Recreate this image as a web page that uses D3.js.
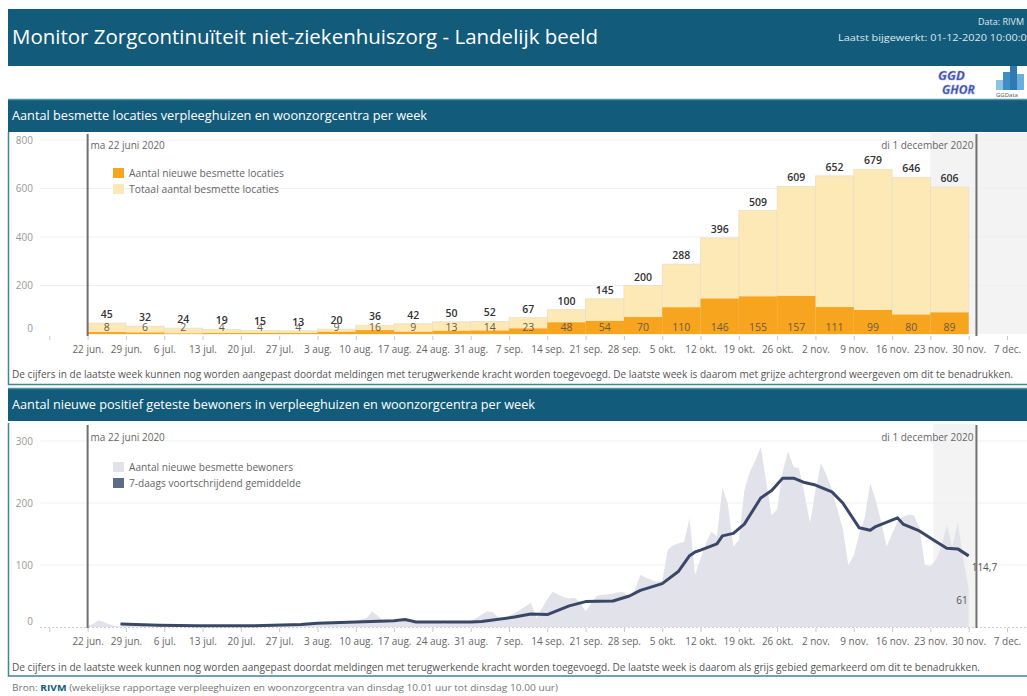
<!DOCTYPE html>
<html>
<head>
<meta charset="utf-8">
<script src="https://cdn.jsdelivr.net/npm/d3@7"></script>
<style>
  body { margin: 0; background: #fff; }
  svg text { font-family: "Open Sans", sans-serif; }
</style>
</head>
<body>
<div id="chart"></div>
<script>
// Weekly ticks (mondays) and their labels
const tickDates = ["2020-06-15","2020-06-22","2020-06-29","2020-07-06","2020-07-13","2020-07-20","2020-07-27",
  "2020-08-03","2020-08-10","2020-08-17","2020-08-24","2020-08-31","2020-09-07","2020-09-14","2020-09-21",
  "2020-09-28","2020-10-05","2020-10-12","2020-10-19","2020-10-26","2020-11-02","2020-11-09","2020-11-16",
  "2020-11-23","2020-11-30","2020-12-07"];
const tickLabels = ["","22 jun.","29 jun.","6 jul.","13 jul.","20 jul.","27 jul.","3 aug.","10 aug.","17 aug.",
  "24 aug.","31 aug.","7 sep.","14 sep.","21 sep.","28 sep.","5 okt.","12 okt.","19 okt.","26 okt.","2 nov.",
  "9 nov.","16 nov.","23 nov.","30 nov.","7 dec."];

// Top chart: infected locations per week
const weekStarts = ["2020-06-22","2020-06-29","2020-07-06","2020-07-13","2020-07-20","2020-07-27","2020-08-03",
  "2020-08-10","2020-08-17","2020-08-24","2020-08-31","2020-09-07","2020-09-14","2020-09-21","2020-09-28",
  "2020-10-05","2020-10-12","2020-10-19","2020-10-26","2020-11-02","2020-11-09","2020-11-16","2020-11-23"];
const totalLocations = [45,32,24,19,15,13,20,36,42,50,52,67,100,145,200,288,396,509,609,652,679,646,606];
const newLocations = [8,6,2,4,4,4,9,16,9,13,14,23,48,54,70,110,146,155,157,111,99,80,89];
const topTicks = [0,200,400,600,800];

// Bottom chart: new positive residents per day, from dailyStart
const dailyStart = "2020-06-22";
const dailyResidents = [
  2,5,11,8,4,2,1, 2,3,1,2,1,1,2, 1,1,0,1,2,1,1, 1,0,1,2,1,1,2, 2,1,1,2,3,2,2,
  3,2,4,6,4,8,5, 5,4,6,7,5,8,10, 9,12,15,25,18,10,12, 9,8,12,7,6,8,7, 6,8,5,7,9,6,8,
  10,14,20,25,24,16,12, 18,22,28,33,39,14,30, 45,57,52,48,46,47,40, 25,38,50,52,53,54,56,
  56,48,60,84,80,76,73, 74,124,132,135,137,176,84, 110,135,154,146,226,197,130,
  140,220,250,268,290,235,180, 190,250,283,258,256,215,168, 220,264,245,222,190,158,100,
  115,150,176,232,205,170,130, 150,170,178,181,180,160,100, 98,108,130,164,130,168,111,61];
const avgDates = ["2020-06-28","2020-07-05","2020-07-12","2020-07-22","2020-07-31","2020-08-03","2020-08-10",
  "2020-08-17","2020-08-19","2020-08-21","2020-08-31","2020-09-02","2020-09-08","2020-09-11","2020-09-14",
  "2020-09-18","2020-09-21","2020-09-26","2020-09-29","2020-10-01","2020-10-05","2020-10-08","2020-10-10",
  "2020-10-11","2020-10-12","2020-10-15","2020-10-16","2020-10-18","2020-10-20","2020-10-23","2020-10-25",
  "2020-10-27","2020-10-29","2020-10-31","2020-11-02","2020-11-05","2020-11-07","2020-11-10","2020-11-12",
  "2020-11-13","2020-11-17","2020-11-18","2020-11-21","2020-11-24","2020-11-26","2020-11-28","2020-11-30"];
const avgValues = [5,3,2,2,4,6,8,10,12,8,8,9,16,21,20,34,41,42,50,59,70,90,115,121,124,134,147,151,166,208,220,
  240,240,233,229,218,200,160,156,162,176,166,155,138,127,126,114.7];
const bottomTicks = [0,100,200,300];

// Marker dates
const markerStart = "2020-06-22";
const markerEnd = "2020-12-01T10:00";
const lastWeek = "2020-11-23";

const parse = d => new Date(d.length > 10 ? d + ":00Z" : d + "T00:00:00Z");
const teal = "#125b7b";

createCharts();

function createCharts() {
  const W = 1027, H = 696;
  const svg = d3.select("#chart")
    .append("svg")
      .attr("width", W)
      .attr("height", H);

  // Header band
  svg.append("rect").attr("x", 8).attr("y", 9).attr("width", W).attr("height", 57).attr("fill", teal);
  svg.append("text").attr("x", 12).attr("y", 44)
    .attr("fill", "#fff").attr("font-size", 20)
    .attr("textLength", 586).attr("lengthAdjust", "spacingAndGlyphs")
    .text("Monitor Zorgcontinuïteit niet-ziekenhuiszorg - Landelijk beeld");
  svg.append("text").attr("x", 1024).attr("y", 25).attr("text-anchor", "end")
    .attr("fill", "#dfe9ee").attr("font-size", 9).text("Data: RIVM");
  svg.append("text").attr("x", 838).attr("y", 41)
    .attr("fill", "#dfe9ee").attr("font-size", 9)
    .attr("textLength", 195).attr("lengthAdjust", "spacingAndGlyphs")
    .text("Laatst bijgewerkt: 01-12-2020 10:00:00");

  // Logo (GGD GHOR / GGData)
  const logo = svg.append("g");
  logo.append("text").attr("x", 938).attr("y", 80).attr("font-size", 13).attr("font-weight", 700)
    .attr("font-style", "italic").attr("fill", "#2b3aa8").attr("stroke", "#9aa6e0").attr("stroke-width", 0.6)
    .text("GGD");
  logo.append("text").attr("x", 942).attr("y", 94).attr("font-size", 12).attr("font-weight", 700)
    .attr("font-style", "italic").attr("fill", "#2b3aa8").attr("stroke", "#9aa6e0").attr("stroke-width", 0.6)
    .text("GHOR");
  [[996, 80, "#8cc3e3"], [1003, 72, "#3f8fc5"], [1010, 66, "#2f7ab5"], [1017, 74, "#6aaedb"]].forEach(b => {
    logo.append("rect").attr("x", b[0]).attr("y", b[1]).attr("width", 7).attr("height", 90 - b[1]).attr("fill", b[2]);
  });
  logo.append("text").attr("x", 996).attr("y", 97).attr("font-size", 6).attr("fill", "#555").text("GGData");

  // X scale shared by both charts
  const x = d3.scaleUtc()
    .domain([parse("2020-06-15"), parse("2020-12-07")])
    .range([49.3, 1007]);
  const day = 86400000;

  function sectionBand(y, label, len) {
    svg.append("rect").attr("x", 8).attr("y", y).attr("width", W).attr("height", 33).attr("fill", teal);
    svg.append("line").attr("x1", 8).attr("x2", W).attr("y1", y + 0.5).attr("y2", y + 0.5)
      .attr("stroke", "#4f93a6").attr("stroke-width", 1.5);
    svg.append("text").attr("x", 12).attr("y", y + 21).attr("fill", "#fff").attr("font-size", 13)
      .attr("textLength", len).attr("lengthAdjust", "spacingAndGlyphs").text(label);
  }
  function panelBorder(y0, y1) {
    svg.append("path").attr("d", `M8.5,${y0} V${y1} H${W}`)
      .attr("fill", "none").attr("stroke", "#3f8798").attr("stroke-width", 1.5);
  }
  function xAxis(y) {
    const g = svg.append("g")
      .attr("transform", `translate(0,${y})`)
      .call(d3.axisBottom(x).tickValues(tickDates.map(parse))
        .tickFormat((d, i) => tickLabels[i]).tickSize(4).tickPadding(6));
    g.select(".domain").remove();
    g.selectAll(".tick line").attr("stroke", "#c8c8c8");
    g.selectAll(".tick text").attr("fill", "#666").attr("font-size", 10)
      .attr("font-family", "Open Sans, sans-serif");
  }
  function yAxis(scale, ticks) {
    const g = svg.append("g")
      .attr("transform", "translate(36,0)")
      .call(d3.axisLeft(scale).tickValues(ticks).tickSize(0).tickPadding(3));
    g.select(".domain").remove();
    g.selectAll(".tick text").attr("fill", "#999").attr("font-size", 10)
      .attr("font-family", "Open Sans, sans-serif")
      .filter(d => d === 0).attr("dy", "-0.28em");
    // grid lines
    svg.append("g").selectAll("line")
      .data(ticks.filter(t => t > 0))
      .join("line")
        .attr("x1", 40).attr("x2", W)
        .attr("y1", d => scale(d)).attr("y2", d => scale(d))
        .attr("stroke", "#efefef");
  }
  function marker(date, y0, y1, label, anchor, ty) {
    const xm = x(parse(date));
    svg.append("line").attr("x1", xm).attr("x2", xm).attr("y1", y0).attr("y2", y1)
      .attr("stroke", "#707070").attr("stroke-width", 2);
    svg.append("text").attr("x", anchor === "end" ? xm - 3 : xm + 3).attr("y", ty)
      .attr("text-anchor", anchor).attr("fill", "#666").attr("font-size", 10).text(label);
  }
  function legend(y, items) {
    items.forEach((it, i) => {
      svg.append("rect").attr("x", 113).attr("y", y + i * 16).attr("width", 11).attr("height", 10)
        .attr("fill", it[0]);
      svg.append("text").attr("x", 129).attr("y", y + i * 16 + 9).attr("fill", "#666").attr("font-size", 10)
        .attr("textLength", it[2]).attr("lengthAdjust", "spacingAndGlyphs").text(it[1]);
    });
  }

  // ---------- Top chart ----------
  sectionBand(99, "Aantal besmette locaties verpleeghuizen en woonzorgcentra per week", 415);
  const yTop = d3.scaleLinear().domain([0, 800]).range([334, 140]);

  // grey background for the last week
  svg.append("rect").attr("x", x(parse(lastWeek))).attr("y", 133)
    .attr("width", W - x(parse(lastWeek))).attr("height", 201).attr("fill", "#f3f3f3");

  yAxis(yTop, topTicks);

  const bars = svg.append("g");
  bars.selectAll(".total")
    .data(weekStarts)
    .join("rect")
      .attr("class", "total")
      .attr("x", d => x(parse(d)))
      .attr("width", d => x(new Date(+parse(d) + 7 * day)) - x(parse(d)))
      .attr("y", (d, i) => yTop(totalLocations[i]))
      .attr("height", (d, i) => yTop(0) - yTop(totalLocations[i]))
      .attr("fill", "#fde9b6")
      .attr("stroke", "#eadfc6").attr("stroke-width", 0.8);
  bars.selectAll(".new")
    .data(weekStarts)
    .join("rect")
      .attr("class", "new")
      .attr("x", d => x(parse(d)))
      .attr("width", d => x(new Date(+parse(d) + 7 * day)) - x(parse(d)))
      .attr("y", (d, i) => yTop(newLocations[i]))
      .attr("height", (d, i) => yTop(0) - yTop(newLocations[i]))
      .attr("fill", "#f7a51e");

  // value labels
  const mid = d => x(new Date(+parse(d) + 3.5 * day));
  bars.selectAll(".tlab")
    .data(weekStarts)
    .join("text")
      .attr("x", mid)
      .attr("y", (d, i) => yTop(totalLocations[i]) - 5)
      .attr("text-anchor", "middle").attr("font-size", 10.5).attr("font-weight", 600)
      .attr("fill", "#333")
      .text((d, i) => totalLocations[i]);
  bars.selectAll(".nlab")
    .data(weekStarts)
    .join("text")
      .attr("x", mid)
      .attr("y", 331)
      .attr("text-anchor", "middle").attr("font-size", 10.5)
      .attr("fill", "#6a5b45")
      .text((d, i) => newLocations[i]);

  xAxis(336);
  marker(markerStart, 134, 336, "ma 22 juni 2020", "start", 149);
  marker(markerEnd, 134, 336, "di 1 december 2020", "end", 149);
  legend(168, [["#f7a51e", "Aantal nieuwe besmette locaties", 155], ["#fde9b6", "Totaal aantal besmette locaties", 150]]);

  svg.append("text").attr("x", 12).attr("y", 377.5).attr("fill", "#555").attr("font-size", 10)
    .attr("textLength", 1001).attr("lengthAdjust", "spacingAndGlyphs")
    .text("De cijfers in de laatste week kunnen nog worden aangepast doordat meldingen met terugwerkende kracht worden toegevoegd. De laatste week is daarom met grijze achtergrond weergeven om dit te benadrukken.");
  panelBorder(132, 384.5);

  // ---------- Bottom chart ----------
  sectionBand(388, "Aantal nieuwe positief geteste bewoners in verpleeghuizen en woonzorgcentra per week", 523);
  const yBot = d3.scaleLinear().domain([0, 300]).range([627, 441]);

  svg.append("rect").attr("x", x(parse(lastWeek)) + 3).attr("y", 424)
    .attr("width", x(parse(markerEnd)) - x(parse(lastWeek)) - 3).attr("height", 203).attr("fill", "#f3f3f3");

  yAxis(yBot, bottomTicks);
  svg.append("line").attr("x1", 40).attr("x2", W).attr("y1", yBot(0) + 0.5).attr("y2", yBot(0) + 0.5)
    .attr("stroke", "#cfcfcf").attr("stroke-dasharray", "2,2");

  const start = +parse(dailyStart);
  const area = d3.area()
    .x((d, i) => x(new Date(start + i * day)))
    .y0(yBot(0))
    .y1(d => yBot(d));
  svg.append("path").datum(dailyResidents)
    .attr("d", area).attr("fill", "#e2e2ea");

  const line = d3.line()
    .x(d => x(parse(d[0])))
    .y(d => yBot(d[1]));
  svg.append("path").datum(avgDates.map((d, i) => [d, avgValues[i]]))
    .attr("d", line).attr("fill", "none")
    .attr("stroke", "#3a4868").attr("stroke-width", 3).attr("stroke-linejoin", "round");

  xAxis(628);
  marker(markerStart, 425, 628, "ma 22 juni 2020", "start", 441);
  marker(markerEnd, 425, 628, "di 1 december 2020", "end", 441);
  legend(462, [["#e2e2ea", "Aantal nieuwe besmette bewoners", 164], ["#5d6a88", "7-daags voortschrijdend gemiddelde", 172]]);

  // end labels
  const lastX = x(parse(avgDates[avgDates.length - 1]));
  svg.append("text").attr("x", lastX + 3).attr("y", yBot(avgValues[avgValues.length - 1]) + 15)
    .attr("fill", "#555").attr("font-size", 10)
    .text(String(avgValues[avgValues.length - 1]).replace(".", ","));
  svg.append("text").attr("x", lastX - 1).attr("y", yBot(dailyResidents[dailyResidents.length - 1]) + 15)
    .attr("text-anchor", "end").attr("fill", "#555").attr("font-size", 10)
    .text(dailyResidents[dailyResidents.length - 1]);

  svg.append("text").attr("x", 12).attr("y", 670.5).attr("fill", "#555").attr("font-size", 10)
    .attr("textLength", 968).attr("lengthAdjust", "spacingAndGlyphs")
    .text("De cijfers in de laatste week kunnen nog worden aangepast doordat meldingen met terugwerkende kracht worden toegevoegd. De laatste week is daarom als grijs gebied gemarkeerd om dit te benadrukken.");
  panelBorder(423, 676);

  // Source line
  const bron = svg.append("text").attr("x", 12).attr("y", 691).attr("fill", "#777").attr("font-size", 9)
    .attr("textLength", 546).attr("lengthAdjust", "spacingAndGlyphs");
  bron.append("tspan").text("Bron: ");
  bron.append("tspan").attr("font-weight", 700).attr("fill", teal).text("RIVM");
  bron.append("tspan").text(" (wekelijkse rapportage verpleeghuizen en woonzorgcentra van dinsdag 10.01 uur tot dinsdag 10.00 uur)");
}
</script>
</body>
</html>
